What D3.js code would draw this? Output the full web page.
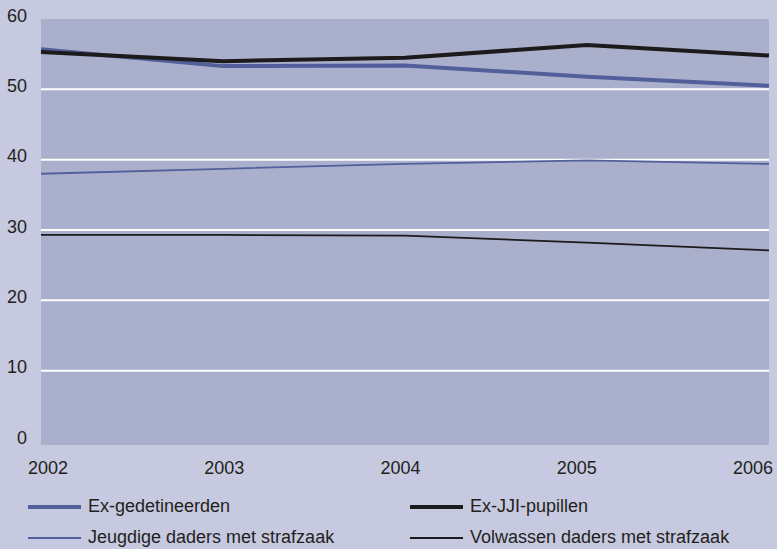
<!DOCTYPE html>
<html>
<head>
<meta charset="utf-8">
<script src="https://cdn.jsdelivr.net/npm/d3@7"></script>
<style>
  body { margin: 0; background: #c6c9df; }
  svg { display: block; font-family: "Liberation Sans", Arial, sans-serif; }
</style>
</head>
<body>
<div id="chart"></div>
<script>
const width = 777;
const height = 549;
const margin = { top: 19, right: 8, bottom: 104, left: 41 };

const years = [2002, 2003, 2004, 2005, 2006];
const yTicks = [0, 10, 20, 30, 40, 50, 60];

const exGedetineerden = [55.7, 53.3, 53.4, 51.8, 50.5];
const exJJI = [55.3, 54.0, 54.5, 56.3, 54.8];
const jeugdigeDaders = [38.0, 38.7, 39.4, 39.9, 39.4];
const volwassenDaders = [29.3, 29.3, 29.2, 28.2, 27.1];

const series = [
  { name: 'Ex-gedetineerden', values: exGedetineerden, color: '#51609a', w: 4 },
  { name: 'Ex-JJI-pupillen', values: exJJI, color: '#1c1a1b', w: 4 },
  { name: 'Jeugdige daders met strafzaak', values: jeugdigeDaders, color: '#51609a', w: 1.8 },
  { name: 'Volwassen daders met strafzaak', values: volwassenDaders, color: '#1c1a1b', w: 1.8 }
];

const svg = d3.select('#chart')
  .append('svg')
  .attr('width', width)
  .attr('height', height);

svg.append('rect')
  .attr('width', width).attr('height', height)
  .attr('fill', '#c6c9df');

const x = d3.scalePoint()
  .domain(years)
  .range([margin.left, width - margin.right]);

// tick labels sit a little inside the data positions
const xLab = d3.scalePoint()
  .domain(years)
  .range([48, 753]);

const y = d3.scaleLinear()
  .domain([0, 60])
  .range([441, margin.top]);

svg.append('rect')
  .attr('x', margin.left)
  .attr('y', margin.top)
  .attr('width', width - margin.right - margin.left)
  .attr('height', 445 - margin.top)
  .attr('fill', '#aaafcb');

svg.append('g')
  .selectAll('line')
  .data(yTicks.filter(d => d > 0 && d < 60))
  .join('line')
    .attr('x1', margin.left)
    .attr('x2', width - margin.right)
    .attr('y1', d => y(d))
    .attr('y2', d => y(d))
    .attr('stroke', '#ffffff')
    .attr('stroke-width', 2);

svg.append('g')
  .selectAll('text')
  .data(yTicks)
  .join('text')
    .attr('x', 27)
    .attr('y', d => y(d) - 2)
    .attr('text-anchor', 'end')
    .attr('dominant-baseline', 'middle')
    .attr('font-size', '18px')
    .attr('fill', '#231f20')
    .text(d => d);

svg.append('g')
  .selectAll('text')
  .data(years)
  .join('text')
    .attr('x', d => xLab(d))
    .attr('y', 474)
    .attr('text-anchor', 'middle')
    .attr('font-size', '18px')
    .attr('fill', '#231f20')
    .text(d => d);

const line = d3.line()
  .x((d, i) => x(years[i]))
  .y(d => y(d));

// draw thin lines first, thick on top
svg.append('g')
  .selectAll('path')
  .data([series[2], series[3], series[0], series[1]])
  .join('path')
    .attr('d', d => line(d.values))
    .attr('fill', 'none')
    .attr('stroke', d => d.color)
    .attr('stroke-width', d => d.w)
    .attr('stroke-linejoin', 'round');

const legendPos = [
  { lx: 28, ly: 507 },
  { lx: 410, ly: 507 },
  { lx: 28, ly: 538 },
  { lx: 410, ly: 538 }
];

const legend = svg.append('g')
  .selectAll('g')
  .data(series)
  .join('g')
    .attr('transform', (d, i) => `translate(${legendPos[i].lx},${legendPos[i].ly})`);

legend.append('line')
  .attr('x1', 0).attr('x2', 53)
  .attr('stroke', d => d.color)
  .attr('stroke-width', d => d.w);

legend.append('text')
  .attr('x', 60)
  .attr('y', 0)
  .attr('dominant-baseline', 'middle')
  .attr('font-size', '18px')
  .attr('fill', '#231f20')
  .text(d => d.name);
</script>
</body>
</html>
